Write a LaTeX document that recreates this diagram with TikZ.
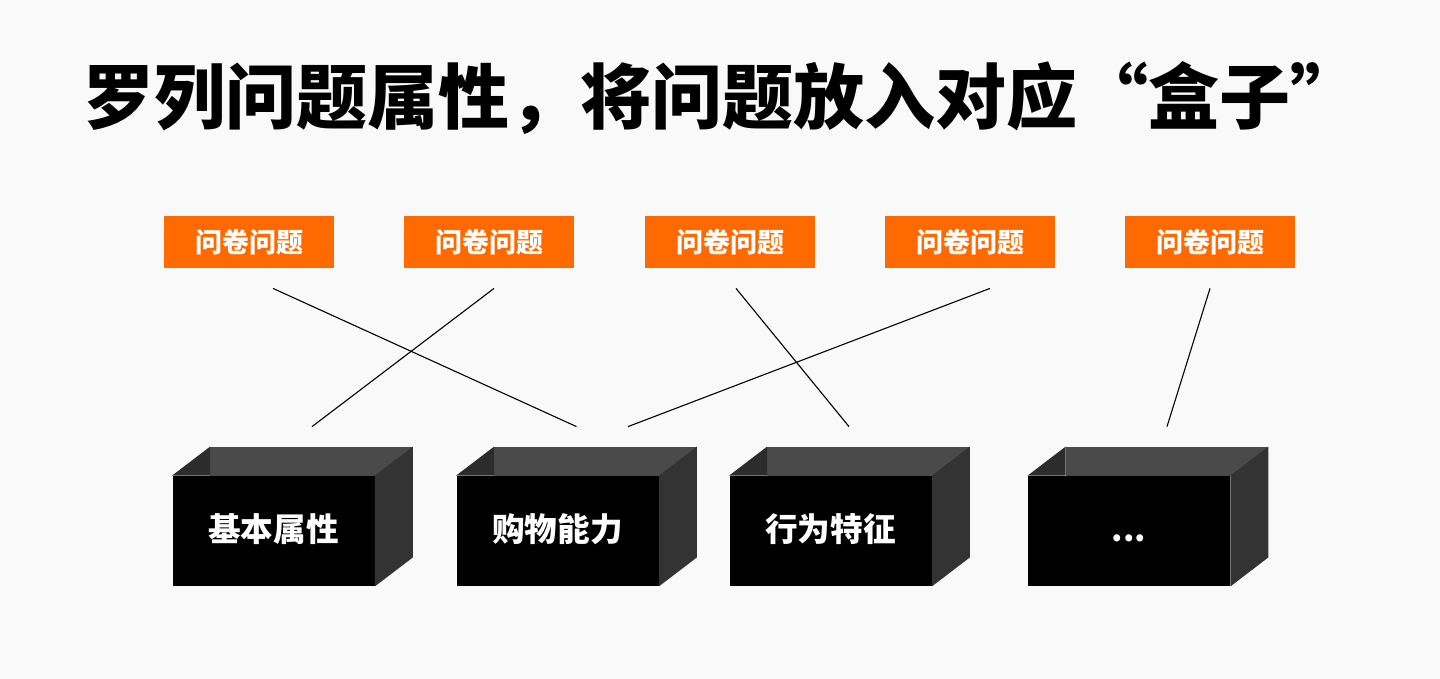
\documentclass[tikz,border=0pt]{standalone}
\usepackage{fontspec}
\setmainfont{Noto Sans CJK SC}
\newfontfamily\cjk{Noto Sans CJK SC}
\usetikzlibrary{calc}
\definecolor{bgc}{HTML}{F9F9F9}
\definecolor{orangec}{HTML}{FF6A00}
\definecolor{backwall}{HTML}{4A4A4A}
\definecolor{leftwall}{HTML}{2C2C2C}
\definecolor{rightface}{HTML}{333333}
\tikzset{
  qlabel/.style={fill=orangec, text=white, minimum width=85pt, minimum height=26pt, inner sep=0pt,
    font=\cjk\bfseries\fontsize{13.5pt}{13.5pt}\selectfont},
  boxfront/.style={fill=black, text=white, minimum width=101pt, minimum height=55pt, inner sep=0pt,
    text height=12pt, text depth=2pt, font=\cjk\bfseries\fontsize{16.3pt}{16.3pt}\selectfont},
  conn/.style={draw=black, line width=0.55pt},
  titletext/.style={font=\cjk\bfseries\fontsize{35.5pt}{35.5pt}\selectfont, anchor=west, inner sep=0pt}
}
\newcommand{\boxsides}[1]{%
  \fill[backwall] ($(#1.north west)+(38,-29)$) rectangle ($(#1.north east)+(38,0)$);
  \fill[leftwall] (#1.north west) -- ($(#1.north west)+(38,-29)$) -- ($(#1.north west)+(38,0)$) -- cycle;
  \fill[rightface] (#1.north east) -- ($(#1.north east)+(38,-29)$) -- ($(#1.south east)+(38,-29)$) -- (#1.south east) -- cycle;
}
\begin{document}
\begin{tikzpicture}[x=0.5pt,y=-0.5pt]
\fill[bgc] (0,0) rectangle (1440,679);
\useasboundingbox (0,0) rectangle (1440,679);

\node[titletext] (title) at (83,98) {罗列问题属性，将问题放入对应“盒子”};

\node[qlabel] (q1) at (249,242) {问卷问题};
\node[qlabel] (q2) at (489,242) {问卷问题};
\node[qlabel] (q3) at (730,242) {问卷问题};
\node[qlabel] (q4) at (970,242) {问卷问题};
\node[qlabel] (q5) at (1210,242) {问卷问题};

\node[boxfront] (b1) at (273.5,531) {基本属性};
\boxsides{b1}
\node[boxfront] (b2) at (557.5,531) {购物能力};
\boxsides{b2}
\node[boxfront] (b3) at (830.5,531) {行为特征};
\boxsides{b3}
\node[boxfront] (b4) at (1129,531) {...};
\boxsides{b4}

\coordinate (s1) at ($(q1.south)+(24,20)$);
\coordinate (s2) at ($(q2.south)+(5,20)$);
\coordinate (s3) at ($(q3.south)+(6,20)$);
\coordinate (s4) at ($(q4.south)+(20,20)$);
\coordinate (s5) at ($(q5.south)+(0,20)$);
\coordinate (e1) at ($(b2.north)+(19,-49)$);
\coordinate (e2) at ($(b1.north)+(38.5,-49)$);
\coordinate (e3) at ($(b3.north)+(18.5,-49)$);
\coordinate (e4) at ($(b2.north)+(70.5,-49)$);
\coordinate (e5) at ($(b4.north)+(38,-49)$);

\draw[conn] (s1) -- (e1);
\draw[conn] (s2) -- (e2);
\draw[conn] (s3) -- (e3);
\draw[conn] (s4) -- (e4);
\draw[conn] (s5) -- (e5);
\end{tikzpicture}
\end{document}
